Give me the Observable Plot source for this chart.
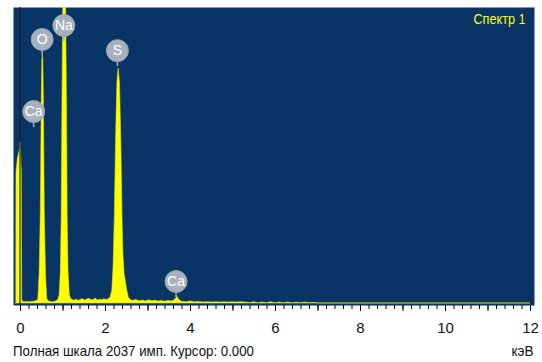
<!DOCTYPE html>
<html>
<head>
<meta charset="utf-8">
<script src="https://cdn.jsdelivr.net/npm/d3@7"></script>
<script src="https://cdn.jsdelivr.net/npm/@observablehq/plot@0.6"></script>
<style>
  html, body { margin: 0; padding: 0; background: #fff; }
  #wrap { width: 542px; }
  #caption { position: relative; width: 542px; height: 22px; font-family: "Liberation Sans", Arial, sans-serif; font-size: 15px; color: #111; line-height: 22px; }
  #caption .l { position: absolute; left: 13px; top: 0; transform: scaleX(0.885); transform-origin: 0 50%; white-space: nowrap; }
  #caption .r { position: absolute; right: 9px; top: 0; transform: scaleX(0.9); transform-origin: 100% 50%; }
</style>
</head>
<body>
<div id="wrap"></div>
<div id="caption"><span class="l"></span><span class="r"></span></div>
<script>
// ---- data ----
const spectrumTitle = "Спектр 1";
const fullScale = 2037;
const cursorKeV = 0.000;
const unitLabel = "кэВ";

const energy = [
  -0.10, -0.095, -0.06, -0.02, 0.005, 0.03, 0.04, 0.06, 0.10, 0.15, 0.20, 0.25, 0.30, 0.35,
  0.39, 0.42, 0.45, 0.48, 0.50, 0.515, 0.525, 0.535, 0.55, 0.57, 0.60, 0.63, 0.67, 0.72, 0.77, 0.82, 0.86,
  0.89, 0.92, 0.95, 0.97, 0.99, 1.01, 1.04, 1.07, 1.09, 1.11, 1.13, 1.16, 1.20,
  1.24, 1.28, 1.32, 1.37, 1.42, 1.47, 1.52, 1.57, 1.62, 1.67, 1.72, 1.77, 1.82, 1.87, 1.92, 1.97, 2.02, 2.07,
  2.12, 2.16, 2.19, 2.22, 2.25, 2.28, 2.31, 2.34, 2.37, 2.40, 2.42, 2.45, 2.48, 2.51, 2.55, 2.60,
  2.65, 2.72, 2.80, 2.88, 2.95, 3.02, 3.10, 3.18, 3.25, 3.32, 3.40, 3.48, 3.55, 3.62, 3.67, 3.70, 3.73, 3.80, 3.90,
  4.00, 4.10, 4.20, 4.30, 4.40, 4.50, 4.60, 4.70, 4.80, 4.90, 5.00, 5.10, 5.20, 5.30, 5.40, 5.50, 5.60, 5.70,
  5.80, 5.90, 6.00, 6.10, 6.20, 6.30, 6.40, 6.50, 6.60, 6.70, 6.80, 6.90, 7.00, 12.0
];
const counts = [
  0, 900, 1000, 1050, 1108, 900, 30, 10, 9, 10, 8, 11, 12, 14,
  18, 30, 200, 650, 1400, 1680, 1707, 1680, 1400, 650, 200, 30, 14, 10, 9, 12, 18,
  25, 55, 220, 600, 1500, 2150, 2350, 2150, 1500, 600, 220, 55, 28,
  22, 20, 28, 18, 25, 30, 20, 27, 32, 22, 24, 35, 20, 26, 22, 30, 24, 28,
  40, 90, 250, 600, 1150, 1520, 1617, 1520, 1150, 600, 350, 200, 150, 90, 40, 22,
  18, 24, 16, 20, 14, 22, 15, 19, 13, 17, 12, 18, 14, 20, 38, 45, 25, 12, 9,
  14, 8, 11, 7, 9, 7, 8, 7, 9, 7, 8, 7, 9, 7, 3, 8, 2, 7,
  2, 8, 2, 7, 1, 7, 1, 6, 1, 7, 1, 5, 0, 0
];

// element markers: line energy and level (counts) of the marker stem's foot
const markerElement = ["Ca", "O", "Na", "S", "Ca"];
const markerEnergy  = [0.31, 0.51, 1.02, 2.28, 3.66];
const markerLevel   = [1211, 1707, 1803, 1630, 41];

// axis ticks
const majorTicks = [0, 2, 4, 6, 8, 10, 12];
const unitTicks = d3.range(0, 13, 1);
const minorTicks = d3.range(0, 60.5, 1).map(i => i / 5);

// ---- build ----
const spectrum = energy.map((e, i) => ({e, c: counts[i]}));
const markers = markerElement.map((m, i) => ({m, e: markerEnergy[i], c: markerLevel[i]}));

const pxPerKeV = 42.5;
const plotH = 340, mTop = 7, mBottom = 35;
const pxPerCount = 296 / fullScale;
const stemPx = 16;

const font = '"Liberation Sans", Arial, sans-serif';

const chart = Plot.plot({
  width: 542,
  height: plotH,
  marginLeft: 13,
  marginRight: 8,
  marginTop: mTop,
  marginBottom: mBottom,
  style: {background: "#ffffff", fontFamily: font, color: "#111"},
  x: {domain: [-7 / pxPerKeV, 12 + 4 / pxPerKeV], label: null},
  y: {domain: [-2 / pxPerCount, fullScale], axis: null, label: null},
  marks: [
    Plot.frame({fill: "#083565", stroke: null}),
    Plot.areaY(spectrum, {x: "e", y: "c", fill: "#ffff00", stroke: "#e4e400", strokeWidth: 0.6, clip: true}),
    Plot.ruleX([cursorKeV], {x: d => d - 0.012, stroke: "#1c2430", strokeWidth: 1.2}),
    Plot.ruleX(markers, {x: "e", y1: "c", y2: d => d.c + stemPx / pxPerCount, stroke: "#a7b0bd", strokeWidth: 1.5}),
    Plot.dot(markers, {x: "e", y: "c", dy: -stemPx, r: 11, fill: "#a7b0bd", stroke: "#98a2b0", strokeWidth: 1}),
    Plot.text(markers, {x: "e", y: "c", dy: -stemPx, text: "m", fill: "#ffffff", fontSize: 14, fontFamily: font, className: "badge-label"}),
    Plot.text([spectrumTitle], {frameAnchor: "top-right", dx: -9, dy: 12, text: d => d, fill: "#ffff00", fontSize: 15, textAnchor: "end", lineAnchor: "middle", fontFamily: font, className: "spec-title"}),
    Plot.axisX({ticks: minorTicks, tickSize: 4, tickFormat: () => "", label: null, stroke: "#000"}),
    Plot.axisX({ticks: unitTicks, tickSize: 6, tickFormat: () => "", label: null, stroke: "#000"}),
    Plot.axisX({ticks: majorTicks, tickSize: 0, tickPadding: 17, tickFormat: d => String(d), label: null, fontSize: 15, fill: "#111"})
  ]
});

document.getElementById("wrap").appendChild(chart);
// condense the title text to match the narrow typeface of the original
chart.querySelectorAll(".spec-title text").forEach(t => {
  t.setAttribute("textLength", 52);
  t.setAttribute("lengthAdjust", "spacingAndGlyphs");
});
document.querySelector("#caption .l").textContent = `Полная шкала ${fullScale} имп. Курсор: ${cursorKeV.toFixed(3)}`;
document.querySelector("#caption .r").textContent = unitLabel;
</script>
</body>
</html>
